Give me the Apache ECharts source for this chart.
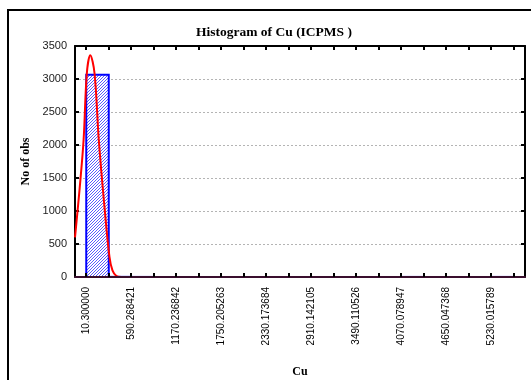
<!DOCTYPE html>
<html><head><meta charset="utf-8">
<script src="https://cdn.jsdelivr.net/npm/echarts@6/dist/echarts.min.js"></script>
<style>html,body{margin:0;padding:0;background:#fff;overflow:hidden}#c{width:531px;height:380px}</style>
</head><body><div id="c"></div>
<script>
// ---- data ----
const binEdges = [10.300000, 300.284211, 590.268421, 880.252632, 1170.236842, 1460.221053, 1750.205263, 2040.189474, 2330.173684, 2620.157895, 2910.142105, 3200.126316, 3490.110526, 3780.094737, 4070.078947, 4360.063158, 4650.047368, 4940.031579, 5230.015789, 5520.000000];
const binCounts = [3065, 2, 1, 0, 0, 0, 0, 0, 0, 0, 0, 0, 0, 0, 1, 0, 0, 0, 1];
const tickLabels = ['10.300000', '590.268421', '1170.236842', '1750.205263', '2330.173684', '2910.142105', '3490.110526', '4070.078947', '4650.047368', '5230.015789'];
const curveX = [-134.692105, -75, -24, 18, 62, 117, 172, 245, 309, 348, 399, 463, 5664.992105];
const curveY = [600, 1340, 2076, 3087, 3360, 3087, 2076, 1065, 308, 100, 15, 0, 0];
const xRange = [-134.692105, 5664.992105];
const yRange = [0, 3500];
const yStep = 500;
const titleText = 'Histogram of Cu (ICPMS )';
const xName = 'Cu';
const yName = 'No of obs';

// hatch pattern
const pc = document.createElement('canvas');
pc.width = 3; pc.height = 3;
const g = pc.getContext('2d');
g.fillStyle = '#ffffff'; g.fillRect(0, 0, 3, 3);
g.fillStyle = '#5a5aff';
for (let i = 0; i < 3; i++) g.fillRect(2 - i, i, 1, 1);
const hatch = { type: 'pattern', image: pc, repeat: 'repeat' };

const labelValues = tickLabels.map(Number);
const serif = '"Liberation Serif", "Times New Roman", serif';
const sans = '"Liberation Sans", Arial, sans-serif';

const chart = echarts.init(document.getElementById('c'), null, { renderer: 'canvas' });
const baseX = {
  type: 'value', min: xRange[0], max: xRange[1],
  axisLine: { show: true, onZero: false, lineStyle: { color: '#000', width: 2 } },
  splitLine: { show: false }
};
const baseY = {
  type: 'value', min: yRange[0], max: yRange[1], interval: yStep,
  axisLine: { show: true, onZero: false, lineStyle: { color: '#000', width: 2 } },
  axisTick: { show: true, inside: true, length: 4, lineStyle: { color: '#000', width: 2 } }
};
chart.setOption({
  animation: false,
  backgroundColor: '#fff',
  title: {
    text: titleText, left: 269, top: 21, textAlign: 'center',
    textStyle: { fontFamily: serif, fontWeight: 'bold', fontSize: 13.5, color: '#000' }
  },
  graphic: [{
    type: 'rect', z: 100, silent: true,
    shape: { x: 8, y: 10, width: 600, height: 500 },
    style: { fill: 'none', stroke: '#000', lineWidth: 2 }
  }],
  grid: { left: 75, right: 6, top: 46, bottom: 103, containLabel: false, outerBoundsMode: 'none' },
  xAxis: [
    Object.assign({}, baseX, {
      position: 'bottom', z: 5,
      axisLine: { show: true, onZero: false, lineStyle: { color: '#3a0f2e', width: 2 } },
      axisTick: { show: true, inside: true, length: 4, customValues: binEdges, lineStyle: { color: '#000', width: 2 } },
      axisLabel: {
        show: true, rotate: 90, margin: 10, customValues: labelValues,
        fontFamily: sans, fontSize: 10, color: '#000',
        formatter: v => { const i = labelValues.indexOf(v); return i >= 0 ? tickLabels[i] : ''; }
      },
      name: xName, nameLocation: 'middle', nameGap: 89,
      nameTextStyle: { fontFamily: serif, fontWeight: 'bold', fontSize: 12, color: '#000' }
    }),
    Object.assign({}, baseX, {
      position: 'top',
      axisTick: { show: true, inside: true, length: 4, customValues: binEdges, lineStyle: { color: '#000', width: 2 } },
      axisLabel: { show: false }
    })
  ],
  yAxis: [
    Object.assign({}, baseY, {
      position: 'left',
      axisLabel: { show: true, margin: 8, fontFamily: sans, fontSize: 11, color: '#222', formatter: v => String(v) },
      splitLine: { show: true, lineStyle: { color: '#b4b4b4', width: 1, type: [2, 2] } },
      name: yName, nameLocation: 'middle', nameGap: 42, nameRotate: 90,
      nameTextStyle: { fontFamily: serif, fontWeight: 'bold', fontSize: 12, color: '#000' }
    }),
    Object.assign({}, baseY, {
      position: 'right',
      axisLabel: { show: false },
      splitLine: { show: false }
    })
  ],
  series: [
    {
      type: 'custom', xAxisIndex: 0, yAxisIndex: 0, z: 2,
      data: binCounts.map((c, i) => [binEdges[i], binEdges[i + 1], c]),
      encode: { x: [0, 1], y: 2 },
      renderItem: function (params, api) {
        const s = api.value(0), e = api.value(1), c = api.value(2);
        const p0 = api.coord([s, c]);
        const p1 = api.coord([e, 0]);
        return {
          type: 'rect',
          shape: { x: p0[0], y: p0[1], width: p1[0] - p0[0], height: p1[1] - p0[1] },
          style: { fill: hatch, stroke: '#0000ff', lineWidth: 2 }
        };
      }
    },
    {
      type: 'line', xAxisIndex: 0, yAxisIndex: 0, z: 3,
      data: curveX.map((x, i) => [x, curveY[i]]),
      smooth: 0.35, symbol: 'none',
      lineStyle: { color: '#ff0000', width: 2 }
    }
  ]
});
</script>
</body></html>
